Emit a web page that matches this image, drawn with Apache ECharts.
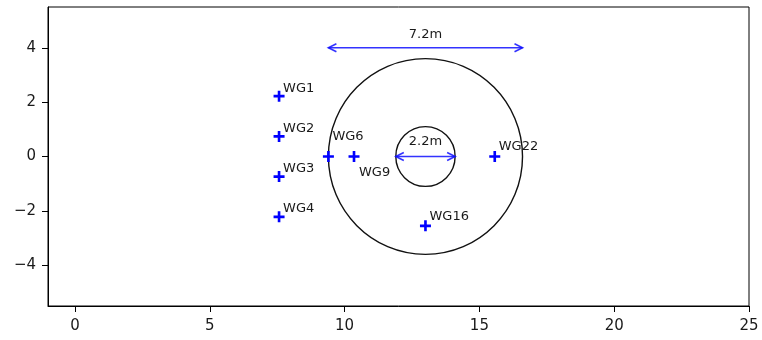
<!DOCTYPE html>
<html>
<head>
<meta charset="utf-8">
<script src="https://cdn.jsdelivr.net/npm/echarts@6/dist/echarts.min.js"></script>
<style>html,body{margin:0;padding:0;background:#fff}#c{width:762px;height:340px}</style>
</head>
<body>
<div id="c"></div>
<script>
// ---- data ----
const gaugeNames = ['WG1', 'WG2', 'WG3', 'WG4', 'WG6', 'WG9', 'WG16', 'WG22'];
const gaugeX = [7.57, 7.57, 7.57, 7.57, 9.4, 10.35, 13.0, 15.57];
const gaugeY = [2.22, 0.74, -0.74, -2.22, 0, 0, -2.55, 0];
const circleCX = [13, 13];
const circleCY = [0, 0];
const circleR = [3.6, 1.1];
const arrowX0 = [9.4, 11.9];
const arrowX1 = [16.6, 14.1];
const arrowY = [4, 0];
const arrowText = ['7.2m', '2.2m'];
const arrowTextY = [4.5, 0.55];
const xTicks = [0, 5, 10, 15, 20, 25];
const yTicks = [-4, -2, 0, 2, 4];

// ---- label pixel offsets (style) ----
const labelOffset = {
  WG1: [4, -8], WG2: [4, -8], WG3: [4, -8], WG4: [4, -8],
  WG6: [4, -20], WG9: [5, 16], WG16: [4, -9], WG22: [4, -10]
};

const fmt = v => String(v).replace('-', '\u2212');
const font = 'DejaVu Sans';
const plusPath = 'path://M3.8,0 H6.2 V3.8 H10 V6.2 H6.2 V10 H3.8 V6.2 H0 V3.8 H3.8 Z';

const chart = echarts.init(document.getElementById('c'), null, {renderer: 'canvas'});
chart.setOption({
  animation: false,
  grid: {left: 48, right: 13, top: 7, bottom: 34, show: true, borderColor: '#000', borderWidth: 1, backgroundColor: 'transparent'},
  xAxis: {
    type: 'value', min: -1, max: 25,
    splitLine: {show: false},
    axisLine: {show: true, onZero: false, lineStyle: {color: '#000', width: 1}},
    axisTick: {show: true, length: 6, inside: false, customValues: xTicks, lineStyle: {color: '#000'}},
    axisLabel: {customValues: xTicks, formatter: fmt, color: '#1a1a1a', fontFamily: font, fontSize: 15, margin: 13}
  },
  yAxis: {
    type: 'value', min: -5.5, max: 5.5,
    splitLine: {show: false},
    axisLine: {show: true, onZero: false, lineStyle: {color: '#000', width: 1}},
    axisTick: {show: true, length: 6, inside: false, customValues: yTicks, lineStyle: {color: '#000'}},
    axisLabel: {customValues: yTicks, formatter: fmt, color: '#1a1a1a', fontFamily: font, fontSize: 15, margin: 12}
  },
  series: [
    {
      type: 'custom',
      coordinateSystem: 'cartesian2d',
      data: circleCX.map((x, i) => [x, circleCY[i], circleR[i]]),
      renderItem: function (params, api) {
        const c = api.coord([api.value(0), api.value(1)]);
        const s = api.size([api.value(2), api.value(2)]);
        return {
          type: 'ellipse',
          shape: {cx: c[0], cy: c[1], rx: s[0], ry: s[1]},
          style: {fill: null, stroke: '#111', lineWidth: 1.4}
        };
      },
      silent: true, z: 2
    },
    {
      type: 'custom',
      coordinateSystem: 'cartesian2d',
      data: arrowX0.map((x, i) => [x, arrowX1[i], arrowY[i], arrowTextY[i], i]),
      renderItem: function (params, api) {
        const a = api.coord([api.value(0), api.value(2)]);
        const b = api.coord([api.value(1), api.value(2)]);
        const t = api.coord([(api.value(0) + api.value(1)) / 2, api.value(3)]);
        const col = 'rgba(15,15,255,0.85)';
        const h = 8, w = 4;
        const st = {stroke: col, lineWidth: 1.6, fill: null};
        return {
          type: 'group',
          children: [
            {type: 'line', shape: {x1: a[0], y1: a[1], x2: b[0], y2: b[1]}, style: st},
            {type: 'polyline', shape: {points: [[a[0] + h, a[1] - w], [a[0], a[1]], [a[0] + h, a[1] + w]]}, style: st},
            {type: 'polyline', shape: {points: [[b[0] - h, b[1] - w], [b[0], b[1]], [b[0] - h, b[1] + w]]}, style: st},
            {type: 'text', x: t[0], y: t[1], style: {text: arrowText[api.value(4)], fill: '#1a1a1a', font: '13px "DejaVu Sans"', align: 'center', verticalAlign: 'middle'}}
          ]
        };
      },
      silent: true, z: 3
    },
    {
      type: 'scatter',
      symbol: plusPath,
      symbolSize: 11,
      itemStyle: {color: '#0000ff', opacity: 1},
      data: gaugeNames.map((n, i) => ({
        value: [gaugeX[i], gaugeY[i]],
        name: n,
        label: {
          show: true, formatter: n,
          position: [5.5 + labelOffset[n][0], 5.5 + labelOffset[n][1]],
          align: 'left', verticalAlign: 'middle',
          color: '#1a1a1a', fontFamily: font, fontSize: 13
        }
      })),
      z: 4
    }
  ]
});
</script>
</body>
</html>
